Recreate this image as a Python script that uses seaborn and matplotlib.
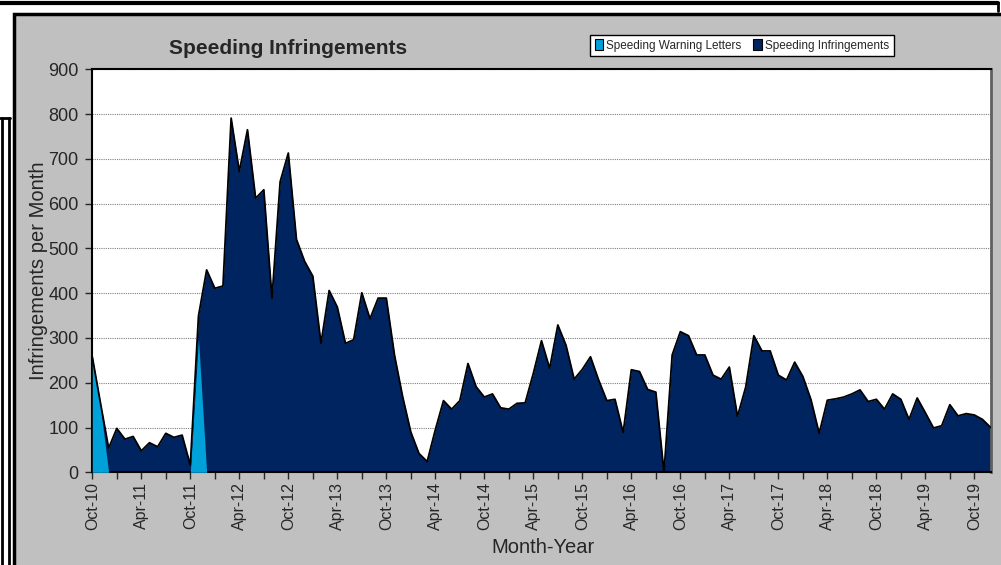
# plot.py
# Speeding infringements per month, Excel-style area chart

import seaborn as sns
import matplotlib.pyplot as plt
import pandas as pd
from matplotlib.patches import Patch, Rectangle
from matplotlib.lines import Line2D

# --------------------------
# 1. Data
# --------------------------
start_month = "2010-10-01"

speeding_infringements = [
    0, 10, 54, 98, 74, 80, 48, 66, 57, 87, 78, 83,            # Oct-10 .. Sep-11
    16, 50, 452, 411, 416, 791, 672, 765, 612, 631, 389, 649,  # Oct-11 .. Sep-12
    713, 520, 471, 438, 288, 406, 369, 288, 296, 401, 343, 389,  # Oct-12 .. Sep-13
    389, 262, 169, 90, 42, 24, 95, 160, 141, 160, 243, 191,    # Oct-13 .. Sep-14
    168, 175, 144, 141, 154, 155, 221, 294, 232, 329, 284, 208,  # Oct-14 .. Sep-15
    230, 258, 206, 160, 163, 89, 229, 225, 185, 179, 0, 262,   # Oct-15 .. Sep-16
    314, 305, 262, 262, 217, 208, 235, 125, 190, 305, 271, 271,  # Oct-16 .. Sep-17
    217, 206, 246, 214, 162, 87, 161, 164, 168, 175, 184, 158,   # Oct-17 .. Sep-18
    163, 141, 175, 163, 118, 166, 133, 99, 104, 151, 126, 131,   # Oct-18 .. Sep-19
    128, 118, 100,                                               # Oct-19 .. Dec-19
]

warning_months = ["Oct-10", "Nov-10", "Nov-11"]
warning_letters = [258, 145, 299]

y_ticks = [0, 100, 200, 300, 400, 500, 600, 700, 800, 900]

dates = pd.date_range(start_month, periods=len(speeding_infringements), freq="MS")
df = pd.DataFrame({
    "idx": range(len(dates)),
    "month": dates.strftime("%b-%y"),
    "infringements": speeding_infringements,
})
df["warnings"] = df["month"].map(dict(zip(warning_months, warning_letters))).fillna(0)
df["total"] = df["warnings"] + df["infringements"]

navy = "#00245F"
light_blue = "#00A0D8"

# --------------------------
# 2. Style
# --------------------------
sns.set_style("white")
plt.rcParams["font.family"] = ["Liberation Sans", "DejaVu Sans"]

fig = plt.figure(figsize=(10.01, 5.65), dpi=100)
fig.patch.set_facecolor("white")

# grey chart box and the surrounding page frame lines
fig.add_artist(Rectangle((14 / 1001, -0.1), 1.2, 1 - 14 / 565 + 0.1,
                         transform=fig.transFigure, facecolor="#C0C0C0",
                         edgecolor="black", lw=2.5, zorder=-1))
fig.add_artist(Line2D([0, 0.997], [1 - 3 / 565] * 2, transform=fig.transFigure,
                      color="black", lw=3))
fig.add_artist(Line2D([0.997, 0.997], [1 - 3 / 565, 1 - 11 / 565],
                      transform=fig.transFigure, color="black", lw=2))
for xp in (2, 9):
    fig.add_artist(Line2D([xp / 1001] * 2, [0, 1 - 118 / 565],
                          transform=fig.transFigure, color="black", lw=2))
fig.add_artist(Line2D([0, 10 / 1001], [1 - 118 / 565] * 2,
                      transform=fig.transFigure, color="black", lw=2))

# --------------------------
# 3. Area chart
# --------------------------
ax = fig.add_axes([92.3 / 1001, 1 - 472.3 / 565, 898.4 / 1001, 403 / 565])
ax.set_facecolor("white")

ax.fill_between(df["idx"], 0, df["total"], color=navy, lw=0, zorder=2)
ax.fill_between(df["idx"], 0, df["warnings"], color=light_blue, lw=0, zorder=3)
sns.lineplot(data=df, x="idx", y="total", color="black", lw=1.3, ax=ax, zorder=4)

ax.set_xlim(0, len(df) - 1)
ax.set_ylim(0, 900)
ax.set_yticks(y_ticks)

tick_idx = list(range(0, len(df), 3))
ax.set_xticks(tick_idx)
ax.set_xticklabels([df["month"][i] if i % 6 == 0 else "" for i in tick_idx])

ax.set_axisbelow(True)
ax.yaxis.grid(True, linestyle=(0, (1, 1)), color="#808080", lw=0.8)
ax.xaxis.grid(False)

ax.tick_params(axis="x", bottom=True, direction="out", length=5, width=1,
               labelsize=11.5, rotation=90, pad=2)
ax.tick_params(axis="y", left=True, direction="out", length=5, width=1,
               labelsize=13, pad=5)

for side in ["left", "top", "bottom"]:
    ax.spines[side].set_color("black")
    ax.spines[side].set_linewidth(1.5)
ax.spines["right"].set_color("#606060")
ax.spines["right"].set_linewidth(2)

# --------------------------
# 4. Titles, labels, legend
# --------------------------
ax.set_ylabel("Infringements per Month", fontsize=14.5)
ax.yaxis.set_label_coords(-0.049, 0.5)
ax.set_xlabel("Month-Year", fontsize=14.5)
ax.xaxis.set_label_coords(0.5017, -0.163)

fig.text(288 / 1001, 1 - 48 / 565, "Speeding Infringements", ha="center",
         va="center", fontsize=15, weight="bold")

handles = [
    Patch(facecolor=light_blue, edgecolor="black", lw=0.8, label="Speeding Warning Letters"),
    Patch(facecolor=navy, edgecolor="black", lw=0.8, label="Speeding Infringements"),
]
leg = fig.legend(handles=handles, loc="center", bbox_to_anchor=(742 / 1001, 1 - 45.5 / 565),
                 ncol=2, fontsize=8.5, frameon=True, fancybox=False, edgecolor="black",
                 framealpha=1, handlelength=0.7, handleheight=1.0, handletextpad=0.3,
                 columnspacing=1.0, borderpad=0.35)
leg.get_frame().set_linewidth(1)

fig.savefig("out.png", dpi=100)
plt.close()
